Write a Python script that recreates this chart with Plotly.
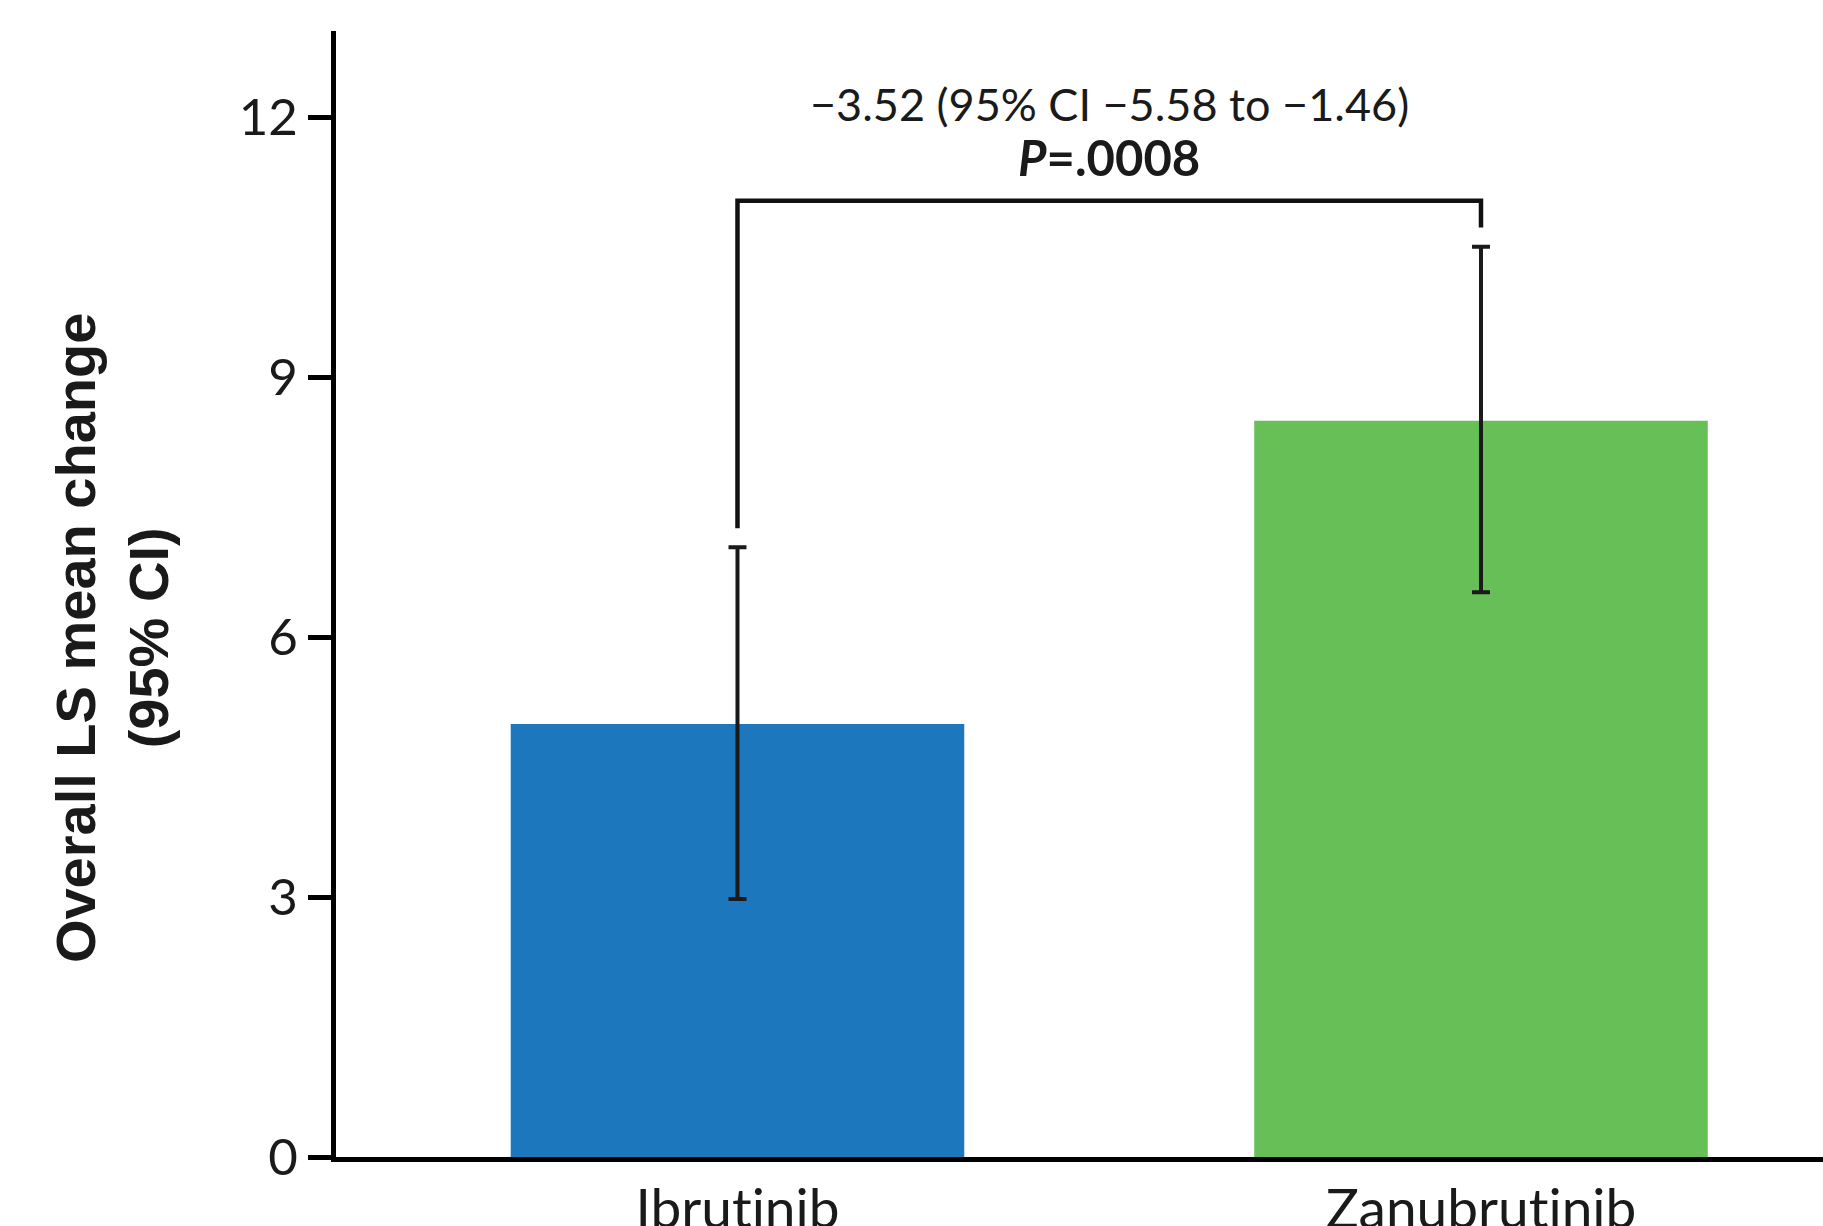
import plotly.graph_objects as go

# Treatment arms and overall least-squares mean change with 95% CI
arms = ["Ibrutinib", "Zanubrutinib"]
ls_mean = [5.0, 8.5]
ci_low = [2.98, 6.52]
ci_high = [7.04, 10.51]
bar_colors = ["#1C77BC", "#67BF58"]

# Between-arm comparison bracket (y levels) and its labels
bracket_top = 11.04
bracket_left_end = 7.26
bracket_right_end = 10.73
diff_label = "\u22123.52 (95% CI \u22125.58 to \u22121.46)"
p_label = "<b><i>P</i>=.0008</b>"

y_ticks = [0, 3, 6, 9, 12]

err_plus = [h - m for h, m in zip(ci_high, ls_mean)]
err_minus = [m - l for m, l in zip(ls_mean, ci_low)]

# Break the "ti" ligature of the label font so names render letter by letter
arm_ticktext = [a.replace("ti", "t\u200ci") for a in arms]

fig = go.Figure()

fig.add_trace(go.Bar(
    x=arms,
    y=ls_mean,
    width=0.61,
    marker=dict(color=bar_colors, line=dict(width=0)),
    error_y=dict(
        type="data",
        symmetric=False,
        array=err_plus,
        arrayminus=err_minus,
        color="#1a1a1a",
        thickness=4,
        width=9,
    ),
    showlegend=False,
    hoverinfo="skip",
))

# Comparison bracket joining the two arms
fig.add_trace(go.Scatter(
    x=[arms[0], arms[0], arms[1], arms[1]],
    y=[bracket_left_end, bracket_top, bracket_top, bracket_right_end],
    mode="lines",
    line=dict(color="#111111", width=4.5),
    showlegend=False,
    hoverinfo="skip",
))

fig.add_annotation(
    x=0.5, y=12.16, xref="x", yref="y",
    text=diff_label, showarrow=False,
    font=dict(family="Lato", size=45, color="#1a1a1a"),
    xanchor="center", yanchor="middle",
)
fig.add_annotation(
    x=0.5, y=11.54, xref="x", yref="y",
    text=p_label, showarrow=False,
    font=dict(family="Lato", size=49, color="#1a1a1a"),
    xanchor="center", yanchor="middle",
)

# Y-axis title
fig.add_annotation(
    x=-0.1505, y=0.461, xref="paper", yref="paper",
    text="<b>Overall LS mean change<br>(95% CI)</b>",
    textangle=-90, showarrow=False,
    font=dict(family="Liberation Sans", size=56, color="#1a1a1a"),
    xanchor="center", yanchor="middle",
)

fig.update_layout(
    width=1823,
    height=1226,
    margin=dict(l=336, r=0, t=31, b=69, autoexpand=False),
    paper_bgcolor="white",
    plot_bgcolor="white",
    xaxis=dict(
        type="category",
        range=[-0.54, 1.46],
        tickmode="array",
        tickvals=arms,
        ticktext=arm_ticktext,
        automargin=False,
        showline=True,
        linecolor="black",
        linewidth=5,
        ticks="",
        showgrid=False,
        zeroline=False,
        ticklabelstandoff=0,
        tickfont=dict(family="Lato", size=55, color="#1a1a1a"),
    ),
    yaxis=dict(
        range=[0, 13],
        tickvals=y_ticks,
        automargin=False,
        showline=True,
        linecolor="black",
        linewidth=5,
        ticks="outside",
        ticklen=23,
        tickwidth=5,
        tickcolor="black",
        showgrid=False,
        zeroline=False,
        tickfont=dict(family="Lato", size=51, color="#1a1a1a"),
    ),
)

fig.write_html("out.html")
